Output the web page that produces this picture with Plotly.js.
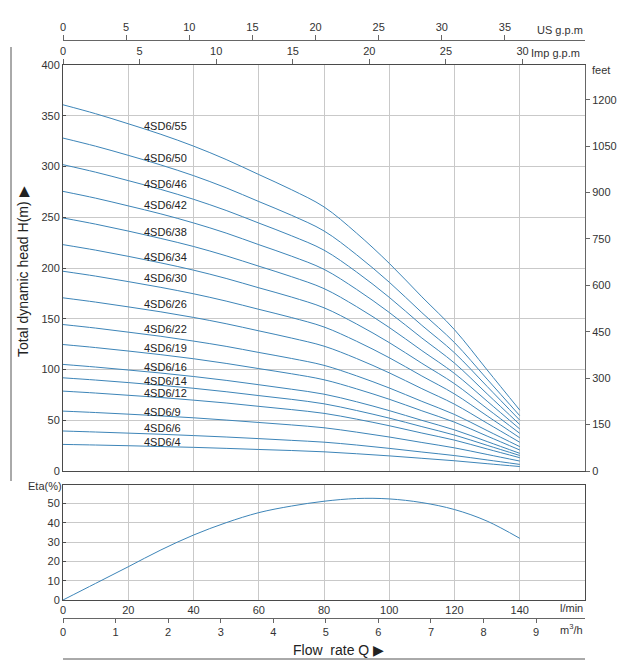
<!DOCTYPE html>
<html><head><meta charset="utf-8">
<script src="https://cdn.plot.ly/plotly-3.0.1.min.js"></script>
<style>html,body{margin:0;padding:0;background:#fff}#chart{width:620px;height:672px}</style>
</head><body><div id="chart"></div>
<script>
// ---- data ----
const flow = [0,10,20,30,40,50,60,70,80,90,100,110,120,130,140]; // l/min
const models = ['4SD6/55','4SD6/50','4SD6/46','4SD6/42','4SD6/38','4SD6/34','4SD6/30','4SD6/26',
                '4SD6/22','4SD6/19','4SD6/16','4SD6/14','4SD6/12','4SD6/9','4SD6/6','4SD6/4'];
const head55 = [360.8,352.0,342.1,331.7,320.1,306.9,292.1,277.2,260.2,234.3,204.6,171.6,139.2,99.6,60.0];
const head50 = [328.0,320.0,311.0,301.5,291.0,279.0,265.5,252.0,236.5,213.0,186.0,156.0,126.5,90.5,54.5];
const head46 = [301.8,294.4,286.1,277.4,267.7,256.7,244.3,231.8,217.6,196.0,171.1,143.5,116.4,83.3,50.1];
const head42 = [275.5,268.8,261.2,253.3,244.4,234.4,223.0,211.7,198.7,178.9,156.2,131.0,106.3,76.0,45.8];
const head38 = [249.3,243.2,236.4,229.1,221.2,212.0,201.8,191.5,179.7,161.9,141.4,118.6,96.1,68.8,41.4];
const head34 = [223.0,217.6,211.5,205.0,197.9,189.7,180.5,171.4,160.8,144.8,126.5,106.1,86.0,61.5,37.1];
const head30 = [196.8,192.0,186.6,180.9,174.6,167.4,159.3,151.2,141.9,127.8,111.6,93.6,75.9,54.3,32.7];
const head26 = [170.6,166.4,161.7,156.8,151.3,145.1,138.1,131.0,123.0,110.8,96.7,81.1,65.8,47.1,28.3];
const head22 = [144.3,140.8,136.8,132.7,128.0,122.8,116.8,110.9,104.1,93.7,81.8,68.6,55.7,39.8,24.0];
const head19 = [124.6,121.6,118.2,114.6,110.6,106.0,100.9,95.8,89.9,80.9,70.7,59.3,48.1,34.4,20.7];
const head16 = [105.0,102.4,99.5,96.5,93.1,89.3,85.0,80.6,75.7,68.2,59.5,49.9,40.5,29.0,17.4];
const head14 = [91.8,89.6,87.1,84.4,81.5,78.1,74.3,70.6,66.2,59.6,52.1,43.7,35.4,25.3,15.3];
const head12 = [78.7,76.8,74.6,72.4,69.8,67.0,63.7,60.5,56.8,51.1,44.6,37.4,30.4,21.7,13.1];
const head9  = [59.0,57.6,56.0,54.3,52.4,50.2,47.8,45.4,42.6,38.3,33.5,28.1,22.8,16.3,9.8];
const head6  = [39.4,38.4,37.3,36.2,34.9,33.5,31.9,30.2,28.4,25.6,22.3,18.7,15.2,10.9,6.5];
const head4  = [26.2,25.6,24.9,24.1,23.3,22.3,21.2,20.2,18.9,17.0,14.9,12.5,10.1,7.2,4.4];
const heads = [head55,head50,head46,head42,head38,head34,head30,head26,head22,head19,head16,head14,head12,head9,head6,head4];
const eta = [0,8.6,17.2,25.9,33.6,40,45.2,48.6,51.1,52.5,52.3,50.4,46.8,40.8,31.9]; // %
const lminTicks = [0,20,40,60,80,100,120,140];
const m3hTicks = [0,1,2,3,4,5,6,7,8,9];
const usTicks = [0,5,10,15,20,25,30,35];
const impTicks = [0,5,10,15,20,25,30];
const headTicks = [0,50,100,150,200,250,300,350,400];
const feetTicks = [0,150,300,450,600,750,900,1050,1200];
const etaTicks = [0,10,20,30,40,50];

// ---- label placement (layout, not data) ----
const labelHead = [340,308,283,262,235,211,190,165,140,121,102,89,77,58,42,29];

// ---- layout helpers ----
const W = 620, Hh = 672;
const px = v => v / W, py = v => 1 - v / Hh;
const X0 = 63, X1 = 585;
const LINE = '#3d85b8';
const GRID = '#c9c9c9';
const AX = '#4a4a4a';
const FONT = 'Liberation Sans, Arial, sans-serif';

const traces = [];
heads.forEach((h, i) => {
  traces.push({x: flow, y: h, type: 'scatter', mode: 'lines', xaxis: 'x', yaxis: 'y',
    line: {color: LINE, width: 1, shape: 'spline', smoothing: 1}, hoverinfo: 'skip', name: models[i]});
});
traces.push({x: flow, y: eta, type: 'scatter', mode: 'lines', xaxis: 'x2', yaxis: 'y3',
  line: {color: LINE, width: 1, shape: 'spline', smoothing: 1}, hoverinfo: 'skip'});
// invisible helpers so the secondary unit axes are drawn
const clear = {color: 'rgba(0,0,0,0)', width: 0};
traces.push({x: flow.map(q => q / 4.546), y: head55, xaxis: 'x3', yaxis: 'y', mode: 'lines', line: clear, hoverinfo: 'skip'});
traces.push({x: flow.map(q => q / 3.785), y: head55, xaxis: 'x4', yaxis: 'y', mode: 'lines', line: clear, hoverinfo: 'skip'});
traces.push({x: flow, y: head55.map(h => h * 3.2808), xaxis: 'x', yaxis: 'y2', mode: 'lines', line: clear, hoverinfo: 'skip'});
traces.push({x: flow.map(q => q * 0.06), y: eta, xaxis: 'x5', yaxis: 'y3', mode: 'lines', line: clear, hoverinfo: 'skip'});

const dom = [px(X0), px(X1)];
const tf = {family: FONT, size: 11, color: '#333'};

const annotations = models.map((m, i) => ({
  x: 24.2, y: labelHead[i], xref: 'x', yref: 'y', text: m, showarrow: false,
  xanchor: 'left', yanchor: 'middle', font: {family: FONT, size: 11, color: '#222'}
}));
const pa = (text, x, y, xa, extra) => Object.assign({text, x: px(x), y: py(y), xref: 'paper', yref: 'paper',
  showarrow: false, xanchor: xa, yanchor: 'middle', font: {family: FONT, size: 11, color: '#333'}}, extra || {});
annotations.push(pa('US g.p.m', 585, 30, 'right'));
annotations.push(pa('Imp g.p.m', 582, 53, 'right'));
annotations.push(pa('feet', 590, 70, 'left'));
annotations.push(pa('l/min', 585, 608, 'right'));
annotations.push(pa('m<sup>3</sup>/h', 585, 629, 'right'));
annotations.push(pa('Eta(%)', 26, 486, 'left'));
annotations.push(pa('Flow  rate Q ▶', 338, 650, 'center', {font: {family: FONT, size: 14, color: '#222'}}));
annotations.push(pa('Total dynamic head H(m) ▶', 23, 272, 'center', {textangle: -90, font: {family: FONT, size: 14, color: '#222'}}));

const layout = {
  width: W, height: Hh, margin: {l: 0, r: 0, t: 0, b: 0},
  paper_bgcolor: '#fff', plot_bgcolor: '#fff', showlegend: false,
  font: tf,
  xaxis: {domain: dom, anchor: 'y', range: [0, 160], tickvals: lminTicks, showticklabels: false,
    showgrid: true, gridcolor: GRID, gridwidth: 1, zeroline: false, showline: true, linecolor: AX, ticks: ''},
  yaxis: {domain: [py(471), py(65)], anchor: 'x', range: [0, 400], tickvals: headTicks,
    showgrid: true, gridcolor: GRID, zeroline: false, showline: true, linecolor: AX,
    ticks: 'inside', ticklen: 3, tickcolor: AX, tickfont: tf},
  yaxis2: {overlaying: 'y', side: 'right', anchor: 'x', range: [0, 400 * 3.2808], tickvals: feetTicks,
    showgrid: false, zeroline: false, showline: true, linecolor: '#666', ticks: 'outside', ticklen: 4, tickcolor: '#666', tickfont: tf},
  xaxis3: {overlaying: 'x', side: 'top', anchor: 'y', range: [0, 34.08], tickvals: impTicks,
    showgrid: false, zeroline: false, showline: true, linecolor: AX, ticks: 'outside', ticklen: 5, tickcolor: '#666', tickfont: tf},
  xaxis4: {overlaying: 'x', side: 'top', anchor: 'free', position: py(40), range: [0, 41.34], tickvals: usTicks,
    showgrid: false, zeroline: false, showline: true, linecolor: '#666', ticks: 'outside', ticklen: 5, tickcolor: '#666', tickfont: tf},
  xaxis2: {domain: dom, anchor: 'y3', range: [0, 160], tickvals: lminTicks,
    showgrid: true, gridcolor: GRID, zeroline: false, showline: true, linecolor: AX, mirror: true, ticks: '', tickfont: tf},
  yaxis3: {domain: [py(600), py(485)], anchor: 'x2', range: [0, 59.5], tickvals: etaTicks,
    showgrid: true, gridcolor: GRID, zeroline: false, showline: true, linecolor: AX, mirror: true,
    ticks: 'inside', ticklen: 3, tickcolor: AX, tickfont: tf},
  xaxis5: {overlaying: 'x2', side: 'bottom', anchor: 'free', position: py(618), range: [0, 9.93], tickvals: m3hTicks,
    showgrid: false, zeroline: false, showline: true, linecolor: '#666', ticks: 'outside', ticklen: 4, tickcolor: '#666', tickfont: tf},
  annotations: annotations,
  shapes: [
    {type: 'line', xref: 'paper', yref: 'paper', x0: px(11), x1: px(11), y0: py(47), y1: py(481), line: {color: '#555', width: 1}},
    {type: 'line', xref: 'paper', yref: 'paper', x0: px(X0), x1: px(X1), y0: py(659), y1: py(659), line: {color: '#555', width: 1}}
  ]
};
Plotly.newPlot('chart', traces, layout, {displayModeBar: false, staticPlot: true});
</script>
</body></html>
